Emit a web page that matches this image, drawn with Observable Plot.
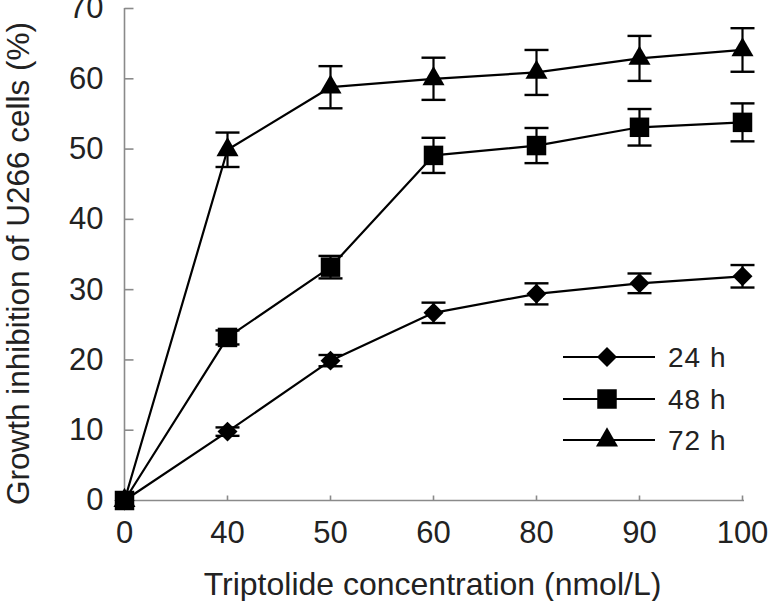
<!DOCTYPE html>
<html><head><meta charset="utf-8">
<script src="https://cdn.jsdelivr.net/npm/d3@7"></script>
<script src="https://cdn.jsdelivr.net/npm/@observablehq/plot@0.6"></script>
<style>
body{margin:0;background:#fff;}
#chart{position:relative;width:770px;height:601px;}
</style>
</head><body><div id="chart"></div>
<script>
const concentrations = ["0", "40", "50", "60", "80", "90", "100"];
const seriesNames = ["24 h", "48 h", "72 h"];
const seriesSymbols = ["diamond2", "square", "triangle"];
const values24 = [0, 9.8, 19.9, 26.7, 29.4, 30.9, 31.9];
const errors24 = [0, 0.6, 0.8, 1.45, 1.5, 1.4, 1.6];
const values48 = [0, 23.2, 33.2, 49.1, 50.5, 53.1, 53.8];
const errors48 = [0, 1.0, 1.6, 2.5, 2.5, 2.6, 2.7];
const values72 = [0, 49.9, 58.8, 60.0, 60.9, 62.9, 64.1];
const errors72 = [0, 2.45, 3.0, 3.0, 3.2, 3.2, 3.1];
const yTicks = [0, 10, 20, 30, 40, 50, 60, 70];
const xTitle = "Triptolide concentration (nmol/L)";
const yTitle = "Growth inhibition of U266 cells (%)";

const allValues = [values24, values48, values72];
const allErrors = [errors24, errors48, errors72];
const rows = [];
seriesNames.forEach((s, si) => {
  concentrations.forEach((c, i) => {
    rows.push({series: s, conc: c, value: allValues[si][i], err: allErrors[si][i]});
  });
});
const errRows = rows.filter(d => d.err > 0);

const FONT = "'Liberation Sans', Arial, sans-serif";
const AXIS = "#8a8a8a";
const capSym = {draw(ctx) { ctx.moveTo(-12, 0); ctx.lineTo(12, 0); }};
const yTickSym = {draw(ctx) { ctx.moveTo(0, 0); ctx.lineTo(9, 0); }};
const xTickSym = {draw(ctx) { ctx.moveTo(0, 0); ctx.lineTo(0, -5); }};
const symR = {"24 h": 9, "48 h": 11, "72 h": 8.2};

const marks = [
  Plot.ruleX(["0"], {x: d => d, y1: 0, y2: 70, stroke: AXIS, strokeWidth: 1.6}),
  Plot.ruleY([0], {stroke: AXIS, strokeWidth: 1.6}),
  Plot.dot(yTicks, {x: () => "0", y: d => d, symbol: yTickSym, r: 5, fill: "none", stroke: AXIS, strokeWidth: 1.6}),
  Plot.dot(concentrations.slice(1), {x: d => d, y: () => 0, symbol: xTickSym, r: 5, fill: "none", stroke: AXIS, strokeWidth: 1.6}),
  Plot.axisY(yTicks, {tickSize: 0, tickPadding: 19, fontSize: 31, fill: "#222", label: null}),
  Plot.axisX(concentrations, {tickSize: 0, tickPadding: 20, fontSize: 31, fill: "#222", label: null}),
  Plot.line(rows, {x: "conc", y: "value", z: "series", stroke: "#000", strokeWidth: 2.2}),
  Plot.ruleX(errRows, {x: "conc", y1: d => d.value - d.err, y2: d => d.value + d.err, stroke: "#000", strokeWidth: 2.2}),
  Plot.dot(errRows, {x: "conc", y: d => d.value - d.err, symbol: capSym, r: 5, fill: "none", stroke: "#000", strokeWidth: 2.4}),
  Plot.dot(errRows, {x: "conc", y: d => d.value + d.err, symbol: capSym, r: 5, fill: "none", stroke: "#000", strokeWidth: 2.4})
];
seriesNames.forEach((s, si) => {
  marks.push(Plot.dot(rows.filter(d => d.series === s), {x: "conc", y: "value", symbol: seriesSymbols[si], r: symR[s], fill: "#000", stroke: "none"}));
});
marks.push(Plot.text([yTitle], {frameAnchor: "left", textAnchor: "middle", rotate: -90, dx: -104, dy: 9, fontSize: 31.5, fill: "#222", lineAnchor: "middle", text: d => d}));
marks.push(Plot.text([xTitle], {frameAnchor: "bottom", textAnchor: "middle", dx: -1, dy: 84, fontSize: 32, fill: "#222", lineAnchor: "middle", text: d => d}));

const chart = Plot.plot({
  width: 770,
  height: 601,
  marginLeft: 122,
  marginRight: 26,
  marginTop: 8,
  marginBottom: 101,
  style: {fontFamily: FONT, background: "#fff", overflow: "visible"},
  x: {type: "point", domain: concentrations, padding: 0},
  y: {domain: [0, 70]},
  marks
});
document.getElementById("chart").appendChild(chart);

// Legend
const svg = d3.select(chart);
const lg = svg.append("g").attr("font-family", FONT).attr("text-anchor", "start");
const legendY = [357, 399, 440];
const legendSizes = {"24 h": Math.PI * 9 * 9, "48 h": Math.PI * 11 * 11, "72 h": Math.PI * 8.2 * 8.2};
const d3Sym = {"diamond2": d3.symbolDiamond2, "square": d3.symbolSquare, "triangle": d3.symbolTriangle};
seriesNames.forEach((s, i) => {
  const y = legendY[i];
  lg.append("line").attr("x1", 563).attr("x2", 655).attr("y1", y).attr("y2", y).attr("stroke", "#000").attr("stroke-width", 2.2);
  lg.append("path").attr("d", d3.symbol(d3Sym[seriesSymbols[i]], legendSizes[s])()).attr("transform", `translate(607,${y})`).attr("fill", "#000");
  lg.append("text").attr("x", 668).attr("y", y).attr("dy", "0.35em").attr("text-anchor", "start")
    .attr("font-size", 28).attr("letter-spacing", 1).attr("fill", "#222").text(s);
});
</script>
</body></html>
